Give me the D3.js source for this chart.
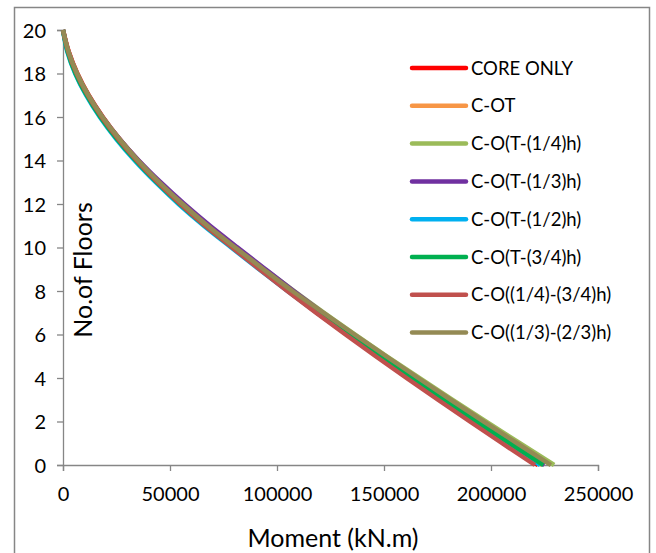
<!DOCTYPE html>
<html><head><meta charset="utf-8">
<script src="https://cdn.jsdelivr.net/npm/d3@7"></script>
<style>body{margin:0;background:#fff;}svg{display:block;font-family:Lato,"Open Sans",sans-serif;}</style>
</head><body><svg id="c" width="656" height="553"></svg>
<script>
const floors = d3.range(0, 21);
const seriesNames = ["CORE ONLY","C-OT","C-O(T-(1/4)h)","C-O(T-(1/3)h)","C-O(T-(1/2)h)","C-O(T-(3/4)h)","C-O((1/4)-(3/4)h)","C-O((1/3)-(2/3)h)"];
const seriesColors = ["#FF0000","#F79646","#9BBB59","#7030A0","#00B0F0","#00B050","#C0504D","#948A54"];
// moments (kN.m) at floors 0..20
const coreOnly = [222000,206600,191400,176300,161400,146800,132600,118700,105200,92100,79400,66900,55400,44800,35100,26300,18600,12000,6700,2700,0];
const cOT      = [224000,208400,193000,177800,162800,148100,133700,119600,105900,92600,79700,66900,55200,44400,34600,25800,18100,11600,6400,2500,0];
const cOT14    = [229500,213500,197600,181900,166500,151300,136500,122000,108000,94300,81000,67800,55800,44800,34800,25900,18100,11600,6300,2400,0];
const cOT13    = [225000,209600,194300,179200,164300,149700,135400,121400,107800,94600,81600,68700,56700,45600,35400,26300,18400,11700,6400,2500,0];
const cOT12    = [223000,207400,192000,176800,161800,147100,132700,118600,104900,91600,78600,65800,54000,43300,33500,24800,17200,10800,5700,2000,0];
const cOT34    = [224500,208800,193300,178000,162900,148100,133600,119400,105600,92200,79200,66400,54600,43800,34000,25200,17500,11100,5900,2200,0];
const cO1434   = [220500,205200,190100,175200,160500,146100,132000,118200,104800,91800,79100,66500,54900,44200,34500,25800,18100,11600,6400,2500,0];
const cO1323   = [228000,212200,196600,181200,166000,151000,136200,121700,107200,93700,80500,67600,55900,45000,35100,26300,18500,11900,6600,2600,0];
const seriesValues = [coreOnly,cOT,cOT14,cOT13,cOT12,cOT34,cO1434,cO1323];
const xTicks = [0,50000,100000,150000,200000,250000];
const yTicks = [0,2,4,6,8,10,12,14,16,18,20];

const svg = d3.select("#c");
const grey = "#868686";
svg.append("rect").attr("x",14.5).attr("y",7.5).attr("width",635).attr("height",560)
  .attr("fill","none").attr("stroke",grey).attr("stroke-width",1.5);

const x = d3.scaleLinear().domain([0,250000]).range([63,598]);
const y = d3.scaleLinear().domain([0,20]).range([465,30]);

const xAxis = svg.append("g").attr("transform","translate(0,465)")
  .call(d3.axisBottom(x).tickValues(xTicks).tickFormat(d3.format("d")).tickSizeOuter(0).tickSize(6).tickPadding(16));
const yAxis = svg.append("g").attr("transform","translate(63,0)")
  .call(d3.axisLeft(y).tickValues(yTicks).tickFormat(d3.format("d")).tickSizeOuter(0).tickSize(6).tickPadding(11));
[xAxis,yAxis].forEach(a=>{
  a.select(".domain").attr("stroke",grey).attr("stroke-width",1.3);
  a.selectAll(".tick line").attr("stroke",grey).attr("stroke-width",1.3);
  a.selectAll(".tick text").attr("fill","#000").style("font-size","20px").style("font-family","Lato");
});
yAxis.selectAll(".tick text").attr("dy","0.36em");

const line = d3.line().x((d)=>x(d[0])).y((d)=>y(d[1])).curve(d3.curveMonotoneY);
seriesValues.forEach((vals,i)=>{
  svg.append("path").datum(floors.map(f=>[vals[f],f]))
    .attr("d",line).attr("fill","none").attr("stroke",seriesColors[i])
    .attr("stroke-width",4.5).attr("stroke-linejoin","round");
});

// legend
const lg = svg.append("g");
seriesNames.forEach((n,i)=>{
  const yy = 68 + i*37.8;
  lg.append("line").attr("x1",412).attr("x2",466).attr("y1",yy).attr("y2",yy)
    .attr("stroke",seriesColors[i]).attr("stroke-width",4.5).attr("stroke-linecap","round");
  lg.append("text").attr("x",471).attr("y",yy).attr("dy","0.36em").text(n)
    .style("font-size","18.5px").attr("fill","#000");
});

svg.append("text").attr("x",333).attr("y",547).attr("text-anchor","middle")
  .style("font-size","25px").text("Moment (kN.m)");
svg.append("text").attr("transform","translate(92,270) rotate(-90)").attr("text-anchor","middle")
  .style("font-size","25px").text("No.of Floors");
</script></body></html>
